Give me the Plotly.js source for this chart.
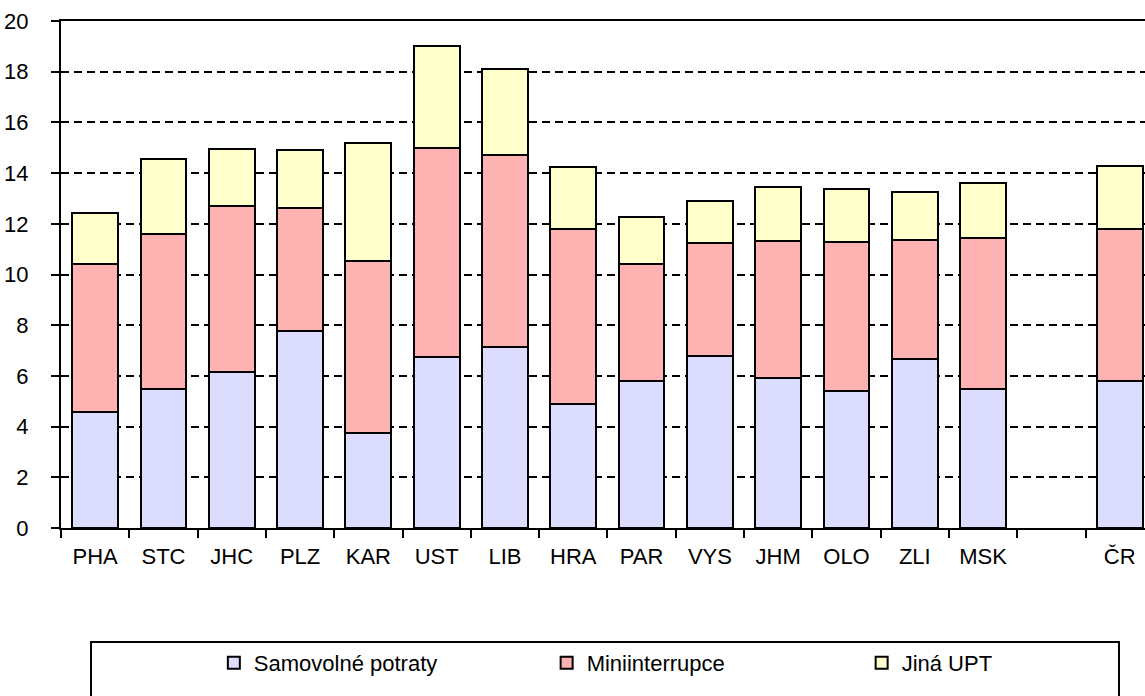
<!DOCTYPE html>
<html>
<head>
<meta charset="utf-8">
<script src="https://cdn.plot.ly/plotly-3.0.1.min.js"></script>
<style>html,body{margin:0;padding:0;background:#fff;overflow:hidden}</style>
</head>
<body>
<div id="chart" style="width:1145px;height:696px"></div>
<script>
const categories = ["PHA","STC","JHC","PLZ","KAR","UST","LIB","HRA","PAR","VYS","JHM","OLO","ZLI","MSK"," ","ČR"];
const samovolne = [4.59,5.48,6.17,7.78,3.75,6.76,7.13,4.88,5.79,6.80,5.90,5.42,6.65,5.50,null,5.80];
const miniinterrupce = [5.82,6.12,6.53,4.86,6.80,8.22,7.58,6.91,4.62,4.44,5.42,5.85,4.70,5.95,null,5.98];
const jinaUPT = [2.03,2.94,2.24,2.27,4.63,4.05,3.41,2.44,1.87,1.67,2.14,2.09,1.92,2.17,null,2.50];
const seriesNames = ["Samovolné potraty","Miniinterrupce","Jiná UPT"];
const yTicks = [0,2,4,6,8,10,12,14,16,18,20];

const colors = ["#dcdcff","#ffb2b2","#ffffcc"];
const legendIds = ["legend","legend2","legend3"];
const legendX = [0.141, 0.448, 0.7386];
const values = [samovolne, miniinterrupce, jinaUPT];
const traces = values.map((v,i)=>({
  type:"bar", x:categories, y:v, name:seriesNames[i], legend:legendIds[i],
  marker:{color:colors[i], line:{color:"#000", width:2}},
  hoverinfo:"x+y+name"
}));

const FONT = "Liberation Sans, Arial, sans-serif";
const layout = {
  width:1145, height:696,
  margin:{l:61, r:0, t:21, b:168},
  barmode:"stack", bargap:0.33,
  paper_bgcolor:"#fff", plot_bgcolor:"#fff",
  font:{family:FONT, size:22, color:"#000"},
  showlegend:true,
  xaxis:{type:"category", range:[-0.5,15.37], showline:true, linecolor:"#000", linewidth:2,
         mirror:true, ticks:"outside", ticklen:8, tickwidth:2, tickcolor:"#000",
         tickson:"boundaries", showgrid:false, ticklabelstandoff:8, fixedrange:true},
  yaxis:{range:[0,20], tickvals:yTicks, showline:true, linecolor:"#000", linewidth:2,
         ticks:"outside", ticklen:8, tickwidth:2, tickcolor:"#000",
         showgrid:true, gridcolor:"#000", gridwidth:2, griddash:"8px,5px",
         zeroline:false, ticklabelstandoff:18, fixedrange:true},
  shapes:[{type:"rect", xref:"paper", yref:"paper", x0:0.0277, x1:0.976, y0:-0.2249, y1:-0.36,
           line:{color:"#000", width:2}, fillcolor:"rgba(0,0,0,0)", layer:"below"}]
};
legendIds.forEach((id,i)=>{
  layout[id] = {orientation:"h", x:legendX[i], xanchor:"left", y:-0.266, yanchor:"middle",
                font:{family:FONT, size:22}, bgcolor:"rgba(0,0,0,0)"};
});
Plotly.newPlot("chart", traces, layout, {displayModeBar:false, staticPlot:true});
</script>
</body>
</html>
